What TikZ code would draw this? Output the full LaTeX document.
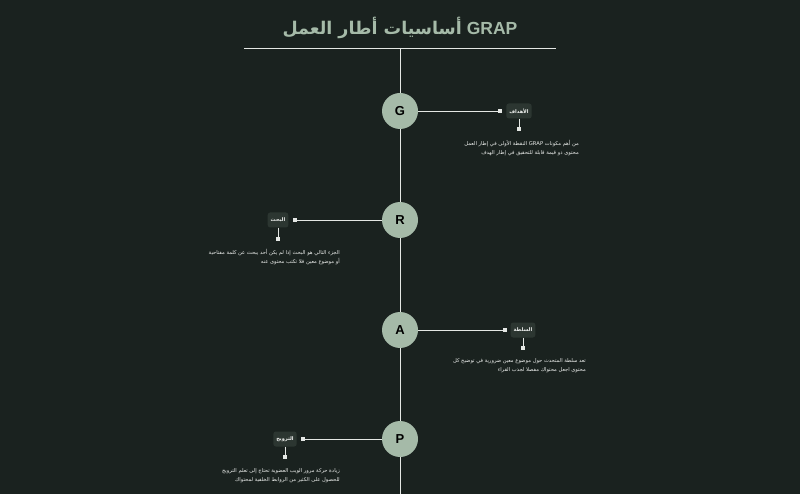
\documentclass[tikz,border=0pt]{standalone}
\usepackage{fontspec}
\setmainfont{Liberation Sans}
\newfontfamily\arabicfont[Script=Arabic]{DejaVu Sans}
\TeXXeTstate=1
\definecolor{bg}{HTML}{1A221F}
\definecolor{sage}{HTML}{A5BAA8}
\definecolor{boxc}{HTML}{2C3631}
\definecolor{linec}{HTML}{E4E7E4}
\definecolor{txtc}{HTML}{EEF0EE}
\tikzset{
  stepcirc/.style={circle, fill=sage, minimum size=36pt, inner sep=0pt, font=\fontsize{13}{13}\selectfont\bfseries, text=black},
  lbl/.style={rounded corners=2.5pt, fill=boxc, text=txtc, minimum height=15pt, inner sep=3pt, font=\arabicfont\fontsize{5}{6}\selectfont\bfseries},
  dotn/.style={rectangle, fill=linec, minimum size=3.4pt, inner sep=0pt},
  conn/.style={draw=linec, line width=0.9pt},
  para/.style={text=txtc, align=right, inner sep=0pt, font=\arabicfont\fontsize{5.2}{9.5}\selectfont},
}
\begin{document}
\begin{tikzpicture}[x=1pt,y=-1pt]
\fill[bg] (0,0) rectangle (800,494);
\useasboundingbox (0,0) rectangle (800,494);

% title
\node[text=sage, font=\fontsize{17.5}{21}\selectfont\bfseries] (title) at (400,28)
  {{\arabicfont\beginR أساسيات أطار العمل\endR} GRAP};
\coordinate (hl) at (244,48);
\coordinate (hr) at (556,48);
\coordinate (top) at (400,48);
\coordinate (bot) at (400,494);
\draw[conn] (hl) -- (hr);
\draw[conn] (top) -- (bot);

% circles
\node[stepcirc] (cG) at (400,111) {G};
\node[stepcirc] (cR) at (400,220) {R};
\node[stepcirc] (cA) at (400,330) {A};
\node[stepcirc] (cP) at (400,439) {P};

% G
\node[dotn] (dG) at (500,111) {};
\node[lbl] (lG) at (519,111) {\beginR الأهداف\endR};
\node[dotn] (eG) at (519,129) {};
\draw[conn] (cG) -- (dG);
\draw[conn] (lG) -- (eG);
\node[para, anchor=north east] (tG) at (579,140) {\beginR من أهم مكونات \beginL GRAP\endL{} النقطة الأولى في إطار العمل\endR\\ \beginR محتوى ذو قيمة قابلة للتحقيق في إطار الهدف\endR};

% R
\node[dotn] (dR) at (295,220) {};
\node[lbl] (lR) at (278,220) {\beginR البحث\endR};
\node[dotn] (eR) at (278,239) {};
\draw[conn] (cR) -- (dR);
\draw[conn] (lR) -- (eR);
\node[para, anchor=north east] (tR) at (340,249) {\beginR الجزء التالي هو البحث إذا لم يكن أحد يبحث عن كلمة مفتاحية\endR\\ \beginR أو موضوع معين فلا تكتب محتوى عنه\endR};

% A
\node[dotn] (dA) at (505,330) {};
\node[lbl] (lA) at (523,330) {\beginR السلطة\endR};
\node[dotn] (eA) at (523,348) {};
\draw[conn] (cA) -- (dA);
\draw[conn] (lA) -- (eA);
\node[para, anchor=north east] (tA) at (586,358) {\beginR تعد سلطة المتحدث حول موضوع معين ضرورية في توضيح كل\endR\\ \beginR محتوى اجعل محتواك مفصلا لجذب القراء\endR};

% P
\node[dotn] (dP) at (303,439) {};
\node[lbl] (lP) at (285,439) {\beginR الترويج\endR};
\node[dotn] (eP) at (285,457) {};
\draw[conn] (cP) -- (dP);
\draw[conn] (lP) -- (eP);
\node[para, anchor=north east] (tP) at (340,468) {\beginR زيادة حركة مرور الويب العضوية تحتاج إلى تعلم الترويج\endR\\ \beginR للحصول على الكثير من الروابط الخلفية لمحتواك\endR};
\end{tikzpicture}
\end{document}
